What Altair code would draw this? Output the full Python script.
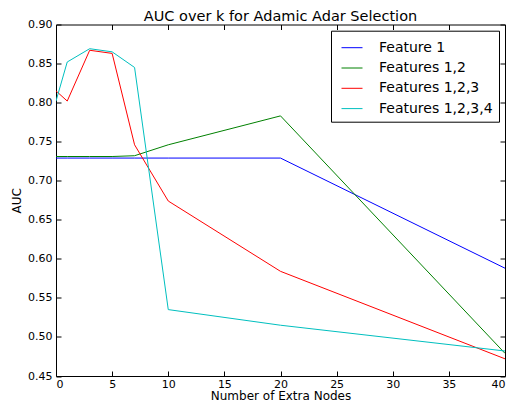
import altair as alt
import pandas as pd

k = [0, 1, 3, 5, 7, 10, 20, 40]
feature_1 = [0.729, 0.729, 0.729, 0.729, 0.729, 0.729, 0.729, 0.588]
features_12 = [0.731, 0.731, 0.731, 0.731, 0.732, 0.746, 0.783, 0.479]
features_123 = [0.815, 0.802, 0.867, 0.863, 0.746, 0.674, 0.584, 0.472]
features_1234 = [0.802, 0.852, 0.869, 0.865, 0.845, 0.535, 0.515, 0.482]

series_names = ["Feature 1", "Features 1,2", "Features 1,2,3", "Features 1,2,3,4"]
series_values = [feature_1, features_12, features_123, features_1234]
series_colors = ["#0000ff", "#008000", "#ff0000", "#00bfbf"]

x_ticks = [0, 5, 10, 15, 20, 25, 30, 35, 40]
y_ticks = [0.45, 0.50, 0.55, 0.60, 0.65, 0.70, 0.75, 0.80, 0.85, 0.90]

rows = []
for name, vals in zip(series_names, series_values):
    for kk, v in zip(k, vals):
        rows.append({"k": kk, "auc": v, "series": name, "order": series_names.index(name)})
df = pd.DataFrame(rows)

FONT = "DejaVu Sans"
xscale = alt.Scale(domain=[0, 40], nice=False, zero=False)
yscale = alt.Scale(domain=[0.45, 0.90], nice=False, zero=False)

lines = alt.Chart(df).mark_line(strokeWidth=1, clip=True).encode(
    x=alt.X("k:Q", scale=xscale,
            axis=alt.Axis(orient="bottom", title="Number of Extra Nodes", values=x_ticks,
                          offset=-5, tickSize=5, domain=False, grid=False,
                          labelPadding=2, labelFontSize=11,
                          titleFontSize=12, titleFontWeight="normal",
                          titleBaseline="alphabetic", titleY=28.5,
                          labelFont=FONT, titleFont=FONT, labelColor="black",
                          titleColor="black", tickColor="black")),
    y=alt.Y("auc:Q", scale=yscale,
            axis=alt.Axis(orient="left", title="AUC", values=y_ticks, format=".2f",
                          offset=-5, tickSize=5, domain=False, grid=False,
                          labelPadding=4, titlePadding=4, labelFontSize=11,
                          titleFontSize=12, titleFontWeight="normal",
                          labelFont=FONT, titleFont=FONT, labelColor="black",
                          titleColor="black", tickColor="black")),
    color=alt.Color("series:N",
                    scale=alt.Scale(domain=series_names, range=series_colors),
                    legend=alt.Legend(title=None, orient="none", legendX=275, legendY=6.2,
                                      strokeColor="black", fillColor="white", padding=6,
                                      labelFontSize=14, labelFont=FONT, labelColor="black",
                                      symbolType="stroke", symbolSize=441, symbolOffset=4,
                                      symbolStrokeWidth=1, labelOffset=16, rowPadding=2.3,
                                      cornerRadius=0)),
    order="order:Q",
)

ticks_layer = alt.Chart(df).mark_point(opacity=0).encode(
    x=alt.X("k:Q", scale=xscale,
            axis=alt.Axis(orient="top", title=None, values=x_ticks, labels=False,
                          offset=-5, tickSize=5, domain=False, grid=False,
                          tickColor="black")),
    y=alt.Y("auc:Q", scale=yscale,
            axis=alt.Axis(orient="right", title=None, values=y_ticks, labels=False,
                          offset=-5, tickSize=5, domain=False, grid=False,
                          tickColor="black")),
)

chart = alt.layer(ticks_layer, lines).properties(
    width=449, height=351.5,
    title=alt.Title("AUC over k for Adamic Adar Selection", fontSize=14.5, font=FONT,
                    fontWeight="normal", color="black", offset=0, dy=5.5),
    autosize=alt.AutoSizeParams(type="none"),
    padding={"left": 48, "top": 16.5, "right": 1, "bottom": 26},
).configure_view(stroke="black", strokeWidth=1)

chart.save("out.html", embed_options={"renderer": "svg", "actions": False})
